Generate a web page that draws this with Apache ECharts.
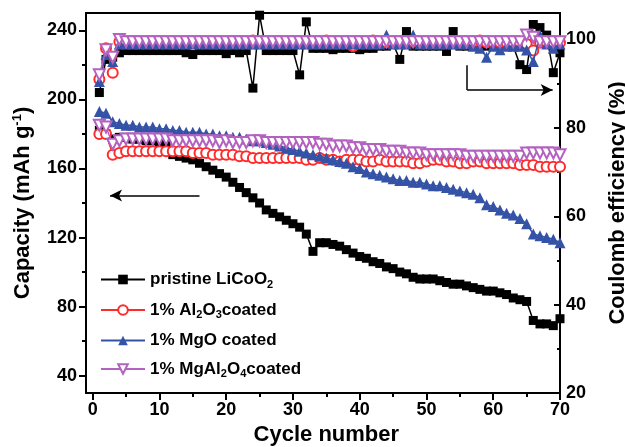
<!DOCTYPE html>
<html>
<head>
<meta charset="utf-8">
<script src="https://cdn.jsdelivr.net/npm/echarts@6.0.0/dist/echarts.min.js"></script>
<style>
  html, body { margin: 0; padding: 0; background: #fff; }
  #chart { width: 625px; height: 447px; }
</style>
</head>
<body>
<div id="chart"></div>
<script>
// cycle numbers
var cycles = [1, 2, 3, 4, 5, 6, 7, 8, 9, 10, 11, 12, 13, 14, 15, 16, 17, 18, 19, 20,
  21, 22, 23, 24, 25, 26, 27, 28, 29, 30, 31, 32, 33, 34, 35, 36, 37, 38, 39, 40,
  41, 42, 43, 44, 45, 46, 47, 48, 49, 50, 51, 52, 53, 54, 55, 56, 57, 58, 59, 60,
  61, 62, 63, 64, 65, 66, 67, 68, 69, 70];

// discharge capacity (mAh/g)
var capPristine = [182, 180, 177, 178, 178, 177, 177, 176, 176, 175, 175, 168, 167, 166, 165, 163, 161, 159, 157, 155,
  152, 149, 146, 143, 140, 136, 134, 132, 130, 128, 126, 122, 112, 117, 117, 116, 115, 113, 111, 109,
  108, 106, 105, 103, 102, 100, 99, 97, 96, 96, 96, 95, 94, 93, 93, 92, 91, 90, 89, 89,
  88, 87, 85, 84, 83, 72, 70, 70, 69, 73];
var capAl2O3 = [180, 180, 168, 169, 170, 170, 170, 170, 170, 170, 170, 170, 170, 170, 169, 169, 169, 168, 168, 168,
  168, 167, 167, 166, 166, 166, 166, 166, 166, 166, 166, 165, 165, 166, 165, 165, 164, 165, 165, 165,
  164, 164, 165, 164, 164, 164, 164, 163, 163, 164, 165, 165, 164, 164, 163, 163, 164, 164, 163, 163,
  163, 163, 163, 162, 162, 162, 161, 161, 161, 161];
var capMgO = [193, 192, 187, 186, 185, 185, 184, 184, 184, 183, 183, 182, 182, 181, 181, 181, 180, 180, 179, 179,
  178, 178, 177, 176, 176, 175, 174, 173, 172, 171, 170, 169, 168, 167, 166, 165, 164, 163, 161, 160,
  158, 157, 156, 155, 154, 153, 153, 152, 152, 151, 150, 150, 149, 148, 147, 146, 145, 143, 139, 138,
  136, 134, 133, 131, 128, 122, 121, 120, 119, 117];
var capMgAl2O4 = [185, 184, 174, 176, 177, 177, 177, 177, 177, 177, 177, 176, 176, 176, 176, 176, 176, 176, 175, 176,
  175, 175, 175, 176, 176, 175, 175, 175, 175, 175, 175, 175, 175, 174, 174, 173, 173, 173, 172, 172,
  171, 171, 171, 170, 170, 170, 169, 169, 169, 168, 168, 168, 168, 168, 168, 167, 167, 167, 167, 167,
  167, 167, 167, 167, 169, 169, 169, 169, 169, 168];

// coulomb efficiency (%)
var effPristine = [88, 95.5, 96, 97, 97.5, 97.5, 97.5, 97.5, 97.5, 97.5, 97.5, 97.5, 97.5, 97, 96.6, 97.5, 97.5, 97.5, 97.5, 96.8,
  97.5, 97, 97.5, 89, 105.5, 97.5, 97.5, 97.5, 97.5, 97.5, 92, 104, 98, 98, 98, 97.7, 98, 98, 98, 97.7,
  98, 98, 98.5, 98.5, 99, 95.5, 101.8, 98.5, 98.5, 98.5, 98.5, 98.5, 97.3, 101.8, 98.5, 98.5, 98.5, 98.5, 98.5, 98.5,
  98.5, 98.5, 98.5, 94.3, 93.2, 103.4, 102.7, 101, 92.5, 97];
var effAl2O3 = [91, 98, 92.5, 99.5, 99.3, 99.3, 99.5, 99.3, 99.3, 99.5, 99.3, 99.3, 99.3, 99.5, 99.3, 99.3, 99.3, 99.3, 99.5, 99.3,
  99.3, 99.3, 99.3, 99.8, 99.3, 99.3, 99.3, 99.3, 99.3, 99.5, 99.3, 99.3, 99.3, 99.3, 99.8, 99.3, 99.3, 99.5, 98.5, 99.3,
  99.3, 99.8, 99.3, 99.3, 99.3, 99.3, 99.3, 99.5, 99.3, 99.3, 99.3, 99.3, 99.3, 99.3, 99.3, 99.3, 99.3, 99.8, 99.3, 99.3,
  99.3, 99.3, 99.3, 99.3, 99, 97.5, 99.3, 99.3, 99.3, 99.3];
var effMgO = [90.5, 96.6, 95, 99, 99, 99, 99, 99, 99, 99, 99, 99, 99, 99, 99, 99, 99, 99, 99, 99,
  99, 99, 99, 99, 99, 99, 99, 99, 99, 99, 99, 99, 99, 99, 99, 99, 99, 99, 99, 99,
  99, 99, 99, 101, 99, 99, 99, 101, 99, 99, 99, 99, 99, 99, 99, 99, 98.5, 98, 96, 98.5,
  97.7, 98.5, 98.5, 98.5, 97.6, 95, 101, 99, 98, 99];
var effMgAl2O4 = [92, 97.7, 96, 100, 99.5, 99.5, 99.5, 99.5, 99.5, 99.5, 99.5, 99.5, 99.5, 99.5, 99.5, 99.5, 99.5, 99.5, 99.5, 99.5,
  99.5, 99.5, 99.5, 99.5, 99.5, 99.5, 99.5, 99.5, 99.5, 99.5, 99.5, 99.5, 99.5, 99.5, 99.5, 99.5, 99.5, 99.5, 99.5, 99.5,
  99.5, 99.5, 99.5, 99.5, 99.5, 99.5, 99.5, 99.5, 99.5, 99.5, 99.5, 99.5, 99.5, 99.5, 99.5, 99.5, 99.5, 99.5, 99.5, 99.5,
  99.5, 99.5, 99.5, 99.5, 101, 100.5, 99.5, 99.5, 99.5, 99.5];

var names = ["pristine LiCoO2", "1% Al2O3coated", "1% MgO coated", "1% MgAl2O4coated"];
var legendText = {
  "pristine LiCoO2": "pristine LiCoO{sub|2}",
  "1% Al2O3coated": "1% Al{sub|2}O{sub|3}coated",
  "1% MgO coated": "1% MgO coated",
  "1% MgAl2O4coated": "1% MgAl{sub|2}O{sub|4}coated"
};

var font = "'Liberation Sans', Arial, sans-serif";

function pairs(ys) {
  var out = [];
  for (var i = 0; i < cycles.length; i++) out.push([cycles[i], ys[i]]);
  return out;
}

var styles = [
  { color: "#000000", symbol: "rect", size: 9 },
  { color: "#ff2a2a", symbol: "emptyCircle", size: 10 },
  { color: "#3553a6", symbol: "triangle", size: 11 },
  { color: "#b462c0", symbol: "emptyTriangle", size: 11, rotate: 180 }
];

function makeSeries(i, data, axis) {
  var s = styles[i];
  return {
    name: names[i],
    type: "line",
    xAxisIndex: 0,
    yAxisIndex: axis,
    data: pairs(data),
    symbol: s.symbol,
    symbolSize: s.size,
    symbolRotate: s.rotate || 0,
    showAllSymbol: true,
    color: s.color,
    lineStyle: { color: s.color, width: 1.5 },
    itemStyle: { color: s.color, borderColor: s.color, borderWidth: i === 0 || i === 2 ? 0 : 1.3 },
    emphasis: { disabled: true },
    animation: false,
    z: 2 + i
  };
}

var series = [
  makeSeries(0, capPristine, 0),
  makeSeries(1, capAl2O3, 0),
  makeSeries(2, capMgO, 0),
  makeSeries(3, capMgAl2O4, 0),
  makeSeries(0, effPristine, 1),
  makeSeries(1, effAl2O3, 1),
  makeSeries(2, effMgO, 1),
  makeSeries(3, effMgAl2O4, 1)
];

// arrows telling which axis each group belongs to
series[0].markLine = {
  silent: true,
  symbol: ["none", "arrow"],
  symbolSize: [9, 12],
  label: { show: false },
  lineStyle: { color: "#000", width: 1.5, type: "solid" },
  data: [[{ coord: [16, 144.3] }, { coord: [2.6, 144.3] }]]
};
series[4].markLine = {
  silent: true,
  symbol: ["none", "none"],
  label: { show: false },
  lineStyle: { color: "#000", width: 1.5, type: "solid" },
  data: [
    [{ coord: [56.1, 94.2] }, { coord: [56.1, 88.6] }],
    [{ coord: [56.1, 88.6], symbol: "none" }, { coord: [68.9, 88.6], symbol: "arrow", symbolSize: [9, 12] }]
  ]
};

var option = {
  backgroundColor: "#fff",
  animation: false,
  textStyle: { fontFamily: font },
  grid: [
    { left: 86, right: 65, top: 13, bottom: 54, show: true, borderColor: "#000", borderWidth: 2, outerBoundsMode: "none" },
    { left: 92.7, right: 65, top: 13, bottom: 54, outerBoundsMode: "none" },
    { left: 86, right: 65, top: 30.3, bottom: 71.3, outerBoundsMode: "none" }
  ],
  legend: {
    orient: "vertical",
    left: 95,
    top: 266,
    itemWidth: 44,
    itemHeight: 12,
    itemGap: 11.5,
    data: names,
    formatter: function (n) { return legendText[n]; },
    textStyle: {
      fontFamily: font,
      fontSize: 17,
      fontWeight: "bold",
      color: "#000",
      rich: {
        sub: { fontSize: 11, fontWeight: "bold", fontFamily: font, padding: [10, 0, 0, 0] }
      }
    }
  },
  xAxis: [
    { gridIndex: 0, type: "value", min: -1, max: 70, show: false },
    {
      gridIndex: 1, type: "value", min: 0, max: 70, interval: 10,
      name: "Cycle number", nameLocation: "middle", nameGap: 30,
      nameTextStyle: { fontFamily: font, fontSize: 22, fontWeight: "bold", color: "#000" },
      axisLine: { show: false },
      axisTick: { show: true, inside: false, length: 7, lineStyle: { color: "#000", width: 2 } },
      minorTick: { show: true, splitNumber: 2, length: 4, lineStyle: { color: "#000", width: 2 } },
      splitLine: { show: false },
      axisLabel: { fontFamily: font, fontSize: 18, fontWeight: "bold", color: "#000", margin: 8 }
    },
    { gridIndex: 2, type: "value", min: 0, max: 70, show: false }
  ],
  yAxis: [
    { gridIndex: 0, type: "value", min: 30, max: 250, show: false },
    {
      gridIndex: 0, type: "value", position: "right", min: 20, max: 106, interval: 20,
      name: "Coulomb efficiency (%)", nameLocation: "middle", nameGap: 42, nameRotate: 90,
      nameTextStyle: { fontFamily: font, fontSize: 22, fontWeight: "bold", color: "#000" },
      axisLine: { show: true, lineStyle: { color: "#000", width: 2 } },
      axisTick: { show: true, inside: true, length: 6, lineStyle: { color: "#000", width: 2 } },
      minorTick: { show: true, splitNumber: 2, length: 3, lineStyle: { color: "#000", width: 2 } },
      splitLine: { show: false },
      axisLabel: { showMaxLabel: false, fontFamily: font, fontSize: 18, fontWeight: "bold", color: "#000", margin: 6 }
    },
    { gridIndex: 1, type: "value", min: 0, max: 1, show: false },
    {
      gridIndex: 2, type: "value", min: 40, max: 240, interval: 40,
      name: "{a|Capacity (mAh g}{sup|-1}{a|)}", nameLocation: "middle", nameGap: 52, nameRotate: 90,
      nameTextStyle: {
        fontFamily: font, fontSize: 22, fontWeight: "bold", color: "#000",
        rich: {
          a: { fontFamily: font, fontSize: 22, fontWeight: "bold", color: "#000" },
          sup: { fontFamily: font, fontSize: 13, fontWeight: "bold", color: "#000", padding: [0, 0, 10, 0] }
        }
      },
      axisLine: { show: false },
      axisTick: { show: true, inside: false, length: 7, lineStyle: { color: "#000", width: 2 } },
      minorTick: { show: true, splitNumber: 2, length: 4, lineStyle: { color: "#000", width: 2 } },
      splitLine: { show: false },
      axisLabel: { fontFamily: font, fontSize: 18, fontWeight: "bold", color: "#000", margin: 9 }
    }
  ],
  series: series
};

var chart = echarts.init(document.getElementById("chart"));
chart.setOption(option);
</script>
</body>
</html>
